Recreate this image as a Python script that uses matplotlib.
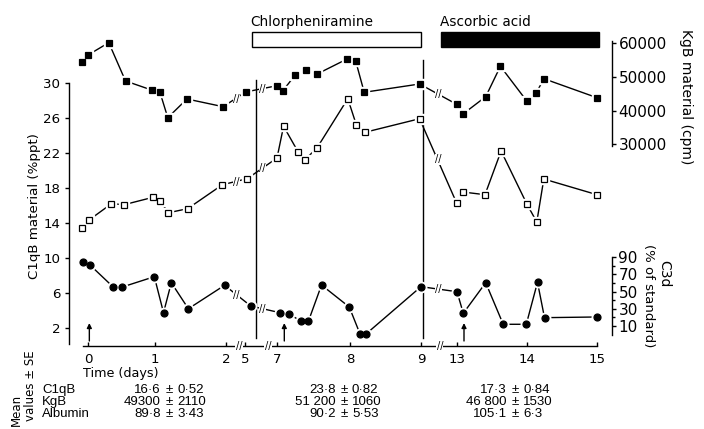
import numpy as np
import matplotlib
matplotlib.use('Agg')
import matplotlib.pyplot as plt
from matplotlib.patches import Rectangle

# ---------------- data ----------------
kgb_days = [-0.09, 0.0, 0.31, 0.56, 0.95, 1.07, 1.18, 1.45, 1.96, 5.04,
            7.0, 7.08, 7.25, 7.40, 7.55, 7.96, 8.08, 8.20, 8.98,
            12.97, 13.08, 13.41, 13.62, 14.0, 14.13, 14.24, 15.0]
kgb_cpm = [54300, 56450, 60100, 48770, 46100, 45430, 37920, 43450, 41170, 45520,
           47380, 45900, 50540, 52020, 50840, 55270, 54680, 45430, 47880,
           41880, 38920, 44130, 53110, 42770, 45130, 49450, 43830]

c1qb_days = [-0.09, 0.01, 0.35, 0.54, 0.97, 1.07, 1.19, 1.46, 1.95, 5.14,
             7.0, 7.09, 7.29, 7.38, 7.55, 7.97, 8.09, 8.21, 8.98,
             12.97, 13.08, 13.40, 13.63, 14.0, 14.14, 14.24, 15.0]
c1qb_ppt = [13.46, 14.34, 16.24, 16.13, 16.97, 16.55, 15.21, 15.67, 18.41, 19.1,
            21.46, 25.09, 22.15, 21.23, 22.64, 28.24, 25.23, 24.4, 25.95,
            16.29, 17.58, 17.27, 22.26, 16.17, 14.15, 19.06, 17.27]

c3d_days = [-0.08, 0.03, 0.38, 0.50, 0.99, 1.12, 1.23, 1.47, 1.98, 5.36,
            7.04, 7.16, 7.33, 7.43, 7.61, 7.99, 8.14, 8.23, 9.0,
            13.0, 13.09, 13.41, 13.66, 13.99, 14.15, 14.25, 15.0]
c3d_pct = [84.5, 81.0, 55.1, 55.1, 67.4, 25.5, 60.4, 30.1, 57.4, 33.3,
           25.5, 24.3, 15.5, 15.5, 57.7, 32.1, 1.0, 1.0, 55.8,
           49.9, 24.8, 60.4, 12.0, 12.0, 60.9, 19.7, 20.5]

x_ticks = [0, 1, 2, 5, 7, 8, 9, 13, 14, 15]
x_ticklabels = ['0', '1', '2', '5', '7', '8', '9', '13', '14', '15']
left_ticks = [2, 6, 10, 14, 18, 22, 26, 30]
kgb_ticks = [30000, 40000, 50000, 60000]
c3d_major = [10, 30, 50, 70, 90]
c3d_minor = [20, 40, 60, 80]

axis_break_days = [4.05, 6.44, 11.1]
line_break_days = [3.6, 6.1, 10.9]
treat_lines = [(5.66, 0.9, 30.4), (9.22, 0.9, 32.7)]
arrow_days = [0.02, 7.1, 13.1]
treatments = ['Chlorpheniramine', 'Ascorbic acid']
treat_start = [5.44, 11.2]
treat_end = [9.0, 15.03]

table_rows = ['C1qB', 'KgB', 'Albumin']
table_means = [['16·6', '23·8', '17·3'],
               ['49300', '51 200', '46 800'],
               ['89·8', '90·2', '105·1']]
table_se = [['0·52', '0·82', '0·84'],
            ['2110', '1060', '1530'],
            ['3·43', '5·53', '6·3']]

# ---------------- fonts ----------------
plt.rcParams['font.family'] = ['DejaVu Sans']
REG = ['Liberation Sans', 'DejaVu Sans']

# ---------------- layout ----------------
W, H = 704, 429
fig = plt.figure(figsize=(W / 100, H / 100), dpi=100)
L_PX, R_PX, T_PX, B_PX = 68.5, 611.5, 10.0, 345.8


def fx(px):
    return px / W


def fy(py):
    return 1 - py / H


ax = fig.add_axes([fx(L_PX), fy(B_PX), (R_PX - L_PX) / W, (B_PX - T_PX) / H])

DAY_KNOTS = [-3, 0, 1, 2, 5, 7, 8, 9, 13, 14, 15, 18]
PX_KNOTS = [-113, 88, 155, 226, 245, 277, 350, 421, 457, 527, 597, 807]


def fwd(d):
    return np.interp(d, DAY_KNOTS, PX_KNOTS)


def inv(p):
    return np.interp(p, PX_KNOTS, DAY_KNOTS)


ax.set_xscale('function', functions=(fwd, inv))
ax.set_xlim(float(inv(L_PX)), float(inv(R_PX)))

PPU_L = 8.75
ax.set_ylim(0, (B_PX - T_PX) / PPU_L)

axk = ax.twinx()
axc = ax.twinx()


def set_lim(a, px_ref, val_ref, ppu):
    bottom = val_ref - (B_PX - px_ref) / ppu
    a.set_ylim(bottom, bottom + (B_PX - T_PX) / ppu)


set_lim(axk, 43.0, 60000, 0.003383)
set_lim(axc, 326.0, 10, 0.859)

# spines
for s in ['top', 'right']:
    ax.spines[s].set_visible(False)
ax.spines['left'].set_bounds(0.2, 30)
ax.spines['bottom'].set_bounds(float(inv(83)), 15)
for a in (axk, axc):
    for s in ['top', 'left', 'bottom']:
        a.spines[s].set_visible(False)
axk.spines['right'].set_bounds(29500, 60700)
axc.spines['right'].set_bounds(0, 90)
for a in (ax, axk, axc):
    for s in a.spines.values():
        s.set_linewidth(1.0)

ax.set_xticks(x_ticks)
ax.set_xticklabels(x_ticklabels, fontsize=9.6)
ax.xaxis.set_minor_locator(matplotlib.ticker.NullLocator())
ax.tick_params(axis='x', direction='in', length=3, width=1, pad=5)
ax.set_yticks(left_ticks)
ax.set_yticklabels([str(t) for t in left_ticks], fontsize=9.6)
ax.tick_params(axis='y', direction='out', length=3, width=1, pad=3)

axk.set_yticks(kgb_ticks)
axk.set_yticklabels([str(t) for t in kgb_ticks], fontsize=11)
axk.tick_params(axis='y', direction='out', length=3, width=1, pad=2)

axc.set_yticks(c3d_major)
axc.set_yticklabels([str(t) for t in c3d_major], fontsize=11)
axc.set_yticks(c3d_minor, minor=True)
axc.tick_params(axis='y', which='major', direction='out', length=3, width=1, pad=2)
axc.tick_params(axis='y', which='minor', direction='out', length=2, width=1)


# ---------------- series ----------------
def series(a, x, y, marker, filled, ms):
    a.plot(x, y, color='k', lw=1.0, zorder=2, clip_on=False)
    a.plot(x, y, ls='none', marker=marker, ms=ms + 2.6, mfc='white', mec='white',
           zorder=3, clip_on=False)
    a.plot(x, y, ls='none', marker=marker, ms=ms, mfc='k' if filled else 'white',
           mec='k', mew=0.9, zorder=4, clip_on=False)
    for bd in line_break_days:
        yb = np.interp(bd, x, y)
        a.text(bd, yb, '//', ha='center', va='center', fontsize=7, zorder=5,
               bbox=dict(fc='white', ec='none', pad=0.2))


series(ax, c1qb_days, c1qb_ppt, 's', False, 4.0)
series(axk, kgb_days, kgb_cpm, 's', True, 4.2)
series(axc, c3d_days, c3d_pct, 'o', True, 5.0)

# axis breaks on the time axis
for bd in axis_break_days:
    ax.text(bd, 0, '//', transform=ax.get_xaxis_transform(), ha='center', va='center',
            fontsize=7, bbox=dict(fc='white', ec='none', pad=0.2), zorder=6, clip_on=False)

# treatment start lines
for d, y0, y1 in treat_lines:
    ax.plot([d, d], [y0, y1], color='k', lw=1.0, zorder=1, clip_on=False)

# dosing arrows
for d in arrow_days:
    ax.annotate('', xy=(d, 2.6), xytext=(d, 0.55),
                arrowprops=dict(arrowstyle='-|>', color='k', lw=1.0,
                                mutation_scale=7, shrinkA=0, shrinkB=0))

# treatment bars
for name, s, e, fill in zip(treatments, treat_start, treat_end, ['white', 'black']):
    ax.add_patch(Rectangle((s, 34.11), e - s, 1.7, fc=fill, ec='k', lw=1.0,
                           clip_on=False, zorder=3))
    ax.text(s - 0.13, 37.06, name, ha='left', va='center', fontsize=9.8)

# axis labels
fig.text(fx(35), fy(206), 'C1qB material (%ppt)', rotation=90, ha='center', va='center',
         fontsize=9.6)
fig.text(fx(686), fy(97), 'KgB material (cpm)', rotation=-90, ha='center', va='center',
         fontsize=10)
fig.text(fx(664), fy(274), 'C3d', rotation=-90, ha='center', va='center', fontsize=10)
fig.text(fx(649), fy(296), '(% of standard)', rotation=-90, ha='center', va='center',
         fontsize=9.5)
fig.text(fx(83), fy(374), 'Time (days)', ha='left', va='center', fontsize=9.2)

# mean values table
fig.text(fx(16), fy(394), 'Mean', rotation=90, ha='center', va='top', fontsize=8.5)
fig.text(fx(31), fy(350), 'values ± SE', rotation=90, ha='center', va='top', fontsize=8.5)
row_y = [390, 402, 414]
pm_x = [169, 344, 515]
for r, lab in enumerate(table_rows):
    fig.text(fx(42), fy(row_y[r]), lab, ha='left', va='center', fontsize=9.5,
             fontfamily=REG)
    for c in range(3):
        fig.text(fx(pm_x[c] - 8), fy(row_y[r]), table_means[r][c], ha='right',
                 va='center', fontsize=9.5, fontfamily=REG)
        fig.text(fx(pm_x[c]), fy(row_y[r]), '±', ha='center', va='center', fontsize=9.5,
                 fontfamily=REG)
        fig.text(fx(pm_x[c] + 8), fy(row_y[r]), table_se[r][c], ha='left', va='center',
                 fontsize=9.5, fontfamily=REG)

fig.savefig('out.png', dpi=100)
